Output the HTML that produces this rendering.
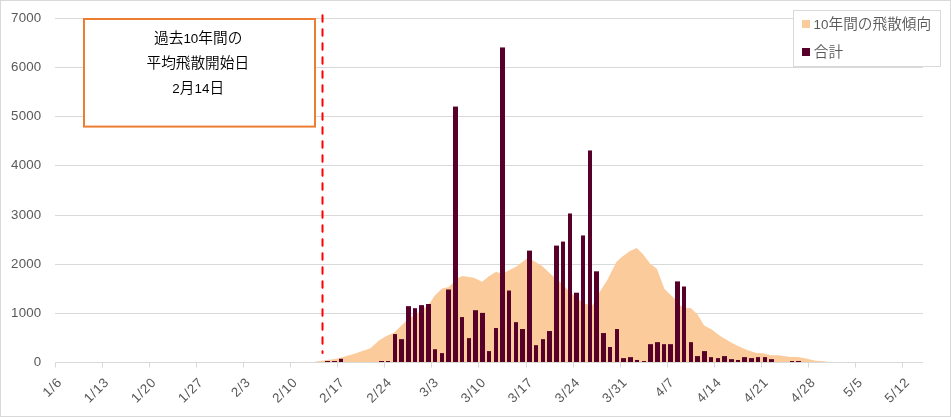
<!DOCTYPE html>
<html lang="ja"><head><meta charset="utf-8"><title>chart</title>
<style>
html,body{margin:0;padding:0;background:#fff;}
body{width:951px;height:417px;overflow:hidden;}
svg{display:block;}
.num{font-family:"Liberation Sans",sans-serif;font-size:13.3px;fill:#595959;}
.jp{font-family:"Liberation Sans","Noto Sans CJK JP",sans-serif;font-weight:350;}
</style></head><body>
<svg width="951" height="417" viewBox="0 0 951 417">
<rect x="0" y="0" width="951" height="417" fill="#fff"/>
<rect x="0.5" y="0.5" width="950" height="416" fill="none" stroke="#d9d9d9" stroke-width="1"/>

<g stroke="#d9d9d9" stroke-width="1">
<line x1="55" y1="313.5" x2="923" y2="313.5"/>
<line x1="55" y1="264.5" x2="923" y2="264.5"/>
<line x1="55" y1="215.5" x2="923" y2="215.5"/>
<line x1="55" y1="165.5" x2="923" y2="165.5"/>
<line x1="55" y1="116.5" x2="923" y2="116.5"/>
<line x1="55" y1="67.5" x2="923" y2="67.5"/>
<line x1="55" y1="18.5" x2="923" y2="18.5"/>
</g>
<polygon points="312.0,362.2 320.0,360.9 336.8,358.8 353.6,354.0 370.5,348.2 378.9,340.6 387.3,335.5 394.0,332.7 404.1,322.9 412.5,316.2 420.9,310.8 429.4,303.8 434.8,295.4 442.1,288.5 448.8,287.0 458.0,278.0 462.2,276.0 474.0,277.7 482.1,281.8 489.2,276.0 496.2,271.8 499.9,273.3 505.1,272.2 516.1,266.8 527.0,258.4 532.0,260.0 542.2,266.0 549.7,273.3 554.1,276.9 561.0,282.8 567.0,289.0 573.6,295.2 580.4,300.8 585.4,303.8 592.2,305.8 594.2,302.5 598.9,293.2 607.3,280.1 616.5,261.7 622.4,256.5 630.0,251.1 636.7,248.1 642.6,253.7 650.2,263.8 656.9,268.8 664.5,289.0 674.6,298.8 680.5,305.8 686.5,308.1 690.7,308.1 697.4,314.2 704.1,325.4 711.7,329.6 720.9,336.4 729.4,341.4 737.8,346.1 747.9,350.2 756.3,352.9 763.0,353.3 770.9,355.2 778.5,355.2 790.3,356.9 797.9,357.1 804.6,358.2 815.5,360.8 823.9,361.3 830.7,362.4" fill="#FBCB9C"/>
<g fill="#56002A">
<rect x="325" y="361.02" width="5" height="0.98"/>
<rect x="332" y="361.02" width="5" height="0.98"/>
<rect x="339" y="358.81" width="4" height="3.19"/>
<rect x="379" y="361.02" width="5" height="0.98"/>
<rect x="386" y="361.02" width="4" height="0.98"/>
<rect x="393" y="334.08" width="4" height="27.92"/>
<rect x="399" y="339.15" width="5" height="22.85"/>
<rect x="406" y="306.17" width="5" height="55.83"/>
<rect x="413" y="308.18" width="4" height="53.82"/>
<rect x="419" y="305.13" width="5" height="56.87"/>
<rect x="426" y="304.00" width="5" height="58.00"/>
<rect x="433" y="349.22" width="4" height="12.78"/>
<rect x="440" y="353.10" width="4" height="8.90"/>
<rect x="446" y="289.50" width="5" height="72.50"/>
<rect x="453" y="106.57" width="5" height="255.43"/>
<rect x="460" y="317.08" width="4" height="44.92"/>
<rect x="467" y="338.11" width="4" height="23.89"/>
<rect x="473" y="310.20" width="5" height="51.80"/>
<rect x="480" y="312.90" width="5" height="49.10"/>
<rect x="487" y="351.09" width="4" height="10.91"/>
<rect x="494" y="328.04" width="4" height="33.96"/>
<rect x="500" y="47.44" width="5" height="314.56"/>
<rect x="507" y="290.54" width="4" height="71.46"/>
<rect x="514" y="322.14" width="4" height="39.86"/>
<rect x="520" y="329.02" width="5" height="32.98"/>
<rect x="527" y="250.63" width="5" height="111.37"/>
<rect x="534" y="345.19" width="4" height="16.81"/>
<rect x="541" y="339.15" width="4" height="22.85"/>
<rect x="547" y="331.04" width="5" height="30.96"/>
<rect x="554" y="245.61" width="5" height="116.39"/>
<rect x="561" y="241.58" width="4" height="120.42"/>
<rect x="568" y="213.47" width="4" height="148.53"/>
<rect x="574" y="292.70" width="5" height="69.30"/>
<rect x="581" y="235.44" width="4" height="126.56"/>
<rect x="588" y="150.46" width="4" height="211.54"/>
<rect x="594" y="271.32" width="5" height="90.68"/>
<rect x="601" y="333.05" width="5" height="28.95"/>
<rect x="608" y="347.01" width="4" height="14.99"/>
<rect x="615" y="329.02" width="4" height="32.98"/>
<rect x="621" y="358.12" width="5" height="3.88"/>
<rect x="628" y="357.13" width="5" height="4.87"/>
<rect x="635" y="359.98" width="4" height="2.02"/>
<rect x="642" y="361.02" width="4" height="0.98"/>
<rect x="648" y="344.16" width="5" height="17.84"/>
<rect x="655" y="342.14" width="5" height="19.86"/>
<rect x="662" y="344.16" width="4" height="17.84"/>
<rect x="668" y="344.16" width="5" height="17.84"/>
<rect x="675" y="281.39" width="5" height="80.61"/>
<rect x="682" y="286.51" width="4" height="75.49"/>
<rect x="689" y="342.14" width="4" height="19.86"/>
<rect x="695" y="356.10" width="5" height="5.90"/>
<rect x="702" y="351.09" width="5" height="10.91"/>
<rect x="709" y="357.13" width="4" height="4.87"/>
<rect x="716" y="358.12" width="4" height="3.88"/>
<rect x="722" y="356.10" width="5" height="5.90"/>
<rect x="729" y="359.15" width="5" height="2.85"/>
<rect x="736" y="359.98" width="4" height="2.02"/>
<rect x="742" y="357.13" width="5" height="4.87"/>
<rect x="749" y="358.12" width="5" height="3.88"/>
<rect x="756" y="357.13" width="4" height="4.87"/>
<rect x="763" y="357.13" width="4" height="4.87"/>
<rect x="769" y="359.15" width="5" height="2.85"/>
<rect x="790" y="361.02" width="4" height="0.98"/>
<rect x="796" y="361.02" width="5" height="0.98"/>
</g>
<g stroke="#d9d9d9" stroke-width="1">
<line x1="55" y1="362.5" x2="923" y2="362.5"/>
<line x1="55.5" y1="362" x2="55.5" y2="367.6"/>
<line x1="102.5" y1="362" x2="102.5" y2="367.6"/>
<line x1="149.5" y1="362" x2="149.5" y2="367.6"/>
<line x1="196.5" y1="362" x2="196.5" y2="367.6"/>
<line x1="243.5" y1="362" x2="243.5" y2="367.6"/>
<line x1="290.5" y1="362" x2="290.5" y2="367.6"/>
<line x1="337.5" y1="362" x2="337.5" y2="367.6"/>
<line x1="384.5" y1="362" x2="384.5" y2="367.6"/>
<line x1="431.5" y1="362" x2="431.5" y2="367.6"/>
<line x1="478.5" y1="362" x2="478.5" y2="367.6"/>
<line x1="526.5" y1="362" x2="526.5" y2="367.6"/>
<line x1="573.5" y1="362" x2="573.5" y2="367.6"/>
<line x1="620.5" y1="362" x2="620.5" y2="367.6"/>
<line x1="667.5" y1="362" x2="667.5" y2="367.6"/>
<line x1="714.5" y1="362" x2="714.5" y2="367.6"/>
<line x1="761.5" y1="362" x2="761.5" y2="367.6"/>
<line x1="808.5" y1="362" x2="808.5" y2="367.6"/>
<line x1="855.5" y1="362" x2="855.5" y2="367.6"/>
<line x1="902.5" y1="362" x2="902.5" y2="367.6"/>
</g>
<text class="num" x="41.3" y="366.30" text-anchor="end" letter-spacing="0.15">0</text>
<text class="num" x="41.3" y="317.30" text-anchor="end" letter-spacing="0.15">1000</text>
<text class="num" x="41.3" y="268.30" text-anchor="end" letter-spacing="0.15">2000</text>
<text class="num" x="41.3" y="219.30" text-anchor="end" letter-spacing="0.15">3000</text>
<text class="num" x="41.3" y="169.30" text-anchor="end" letter-spacing="0.15">4000</text>
<text class="num" x="41.3" y="120.30" text-anchor="end" letter-spacing="0.15">5000</text>
<text class="num" x="41.3" y="71.30" text-anchor="end" letter-spacing="0.15">6000</text>
<text class="num" x="41.3" y="22.30" text-anchor="end" letter-spacing="0.15">7000</text>
<text class="num" transform="translate(62.80,383.0) rotate(-45)" text-anchor="end" letter-spacing="0.8">1/6</text>
<text class="num" transform="translate(109.90,383.0) rotate(-45)" text-anchor="end" letter-spacing="0.8">1/13</text>
<text class="num" transform="translate(157.00,383.0) rotate(-45)" text-anchor="end" letter-spacing="0.8">1/20</text>
<text class="num" transform="translate(204.10,383.0) rotate(-45)" text-anchor="end" letter-spacing="0.8">1/27</text>
<text class="num" transform="translate(251.20,383.0) rotate(-45)" text-anchor="end" letter-spacing="0.8">2/3</text>
<text class="num" transform="translate(298.30,383.0) rotate(-45)" text-anchor="end" letter-spacing="0.8">2/10</text>
<text class="num" transform="translate(345.40,383.0) rotate(-45)" text-anchor="end" letter-spacing="0.8">2/17</text>
<text class="num" transform="translate(392.51,383.0) rotate(-45)" text-anchor="end" letter-spacing="0.8">2/24</text>
<text class="num" transform="translate(439.61,383.0) rotate(-45)" text-anchor="end" letter-spacing="0.8">3/3</text>
<text class="num" transform="translate(486.71,383.0) rotate(-45)" text-anchor="end" letter-spacing="0.8">3/10</text>
<text class="num" transform="translate(533.81,383.0) rotate(-45)" text-anchor="end" letter-spacing="0.8">3/17</text>
<text class="num" transform="translate(580.91,383.0) rotate(-45)" text-anchor="end" letter-spacing="0.8">3/24</text>
<text class="num" transform="translate(628.01,383.0) rotate(-45)" text-anchor="end" letter-spacing="0.8">3/31</text>
<text class="num" transform="translate(675.11,383.0) rotate(-45)" text-anchor="end" letter-spacing="0.8">4/7</text>
<text class="num" transform="translate(722.21,383.0) rotate(-45)" text-anchor="end" letter-spacing="0.8">4/14</text>
<text class="num" transform="translate(769.31,383.0) rotate(-45)" text-anchor="end" letter-spacing="0.8">4/21</text>
<text class="num" transform="translate(816.41,383.0) rotate(-45)" text-anchor="end" letter-spacing="0.8">4/28</text>
<text class="num" transform="translate(863.51,383.0) rotate(-45)" text-anchor="end" letter-spacing="0.8">5/5</text>
<text class="num" transform="translate(910.61,383.0) rotate(-45)" text-anchor="end" letter-spacing="0.8">5/12</text>
<line x1="322.5" y1="15.3" x2="322.5" y2="353" stroke="#FF0000" stroke-width="2" stroke-dasharray="6.4 7.6" stroke-linecap="round"/>
<rect x="84" y="19" width="231" height="107.6" fill="#fff" stroke="#ED7D31" stroke-width="2"/>
<g class="jp" font-size="14.67px" fill="#000" text-anchor="middle">
<text x="198.2" y="43.2">過去<tspan font-size="13.4px">10</tspan>年間の</text>
<text x="197.8" y="68.3">平均飛散開始日</text>
<text x="198.2" y="93.4"><tspan font-size="13.4px">2</tspan>月<tspan font-size="13.4px">14</tspan>日</text>
</g>
<rect x="793.5" y="10.5" width="147" height="56" fill="#fff" stroke="#d9d9d9" stroke-width="1"/>
<rect x="802" y="20" width="8" height="8" fill="#FBCB9C"/>
<rect x="802" y="48" width="8" height="8" fill="#56002A"/>
<g class="jp" font-size="14.67px" fill="#595959">
<text x="813.6" y="29.3"><tspan font-size="13.4px">10</tspan>年間の飛散傾向</text>
<text x="813.8" y="57">合計</text>
</g>
</svg></body></html>
